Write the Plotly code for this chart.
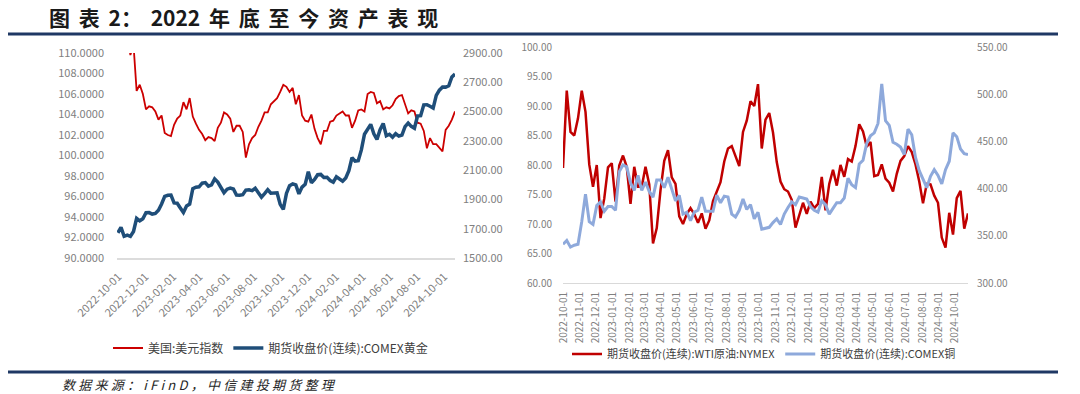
import pandas as pd
import plotly.graph_objects as go

W, H = 1080, 394

# ---------------- data (weekly, Fridays from 2022-09-30) ----------------
start_date = "2022-09-30"

dxy = [112.1,
       112.8, 113.3, 111.9, 109.8,
       110.8, 106.3, 106.9, 106.0,
       104.5, 104.8, 104.7, 104.3, 103.5,
       103.9, 102.2, 102.0, 101.9,
       103.0, 103.6, 103.9, 105.2,
       104.5, 105.6, 103.8, 103.1, 102.5,
       102.1, 101.5, 101.8, 101.7,
       101.4, 102.7, 103.2, 104.2,
       104.0, 103.6, 102.3, 102.9, 102.9,
       102.3, 99.8, 101.1, 101.7,
       102.0, 102.8, 103.4, 104.2,
       104.2, 105.0, 105.3, 105.6, 106.2,
       106.9, 106.7, 106.2, 106.6,
       105.0, 105.9, 103.9, 103.4,
       103.3, 104.0, 102.6, 101.7, 101.1,
       102.4, 102.4, 103.3, 103.4,
       103.9, 104.1, 104.3, 103.9,
       103.9, 102.7, 103.4, 104.4, 104.5,
       104.3, 106.0, 106.2, 106.1,
       105.1, 105.3, 104.5, 104.7, 104.6,
       104.9, 105.5, 105.8, 105.9,
       104.9, 104.1, 104.4, 104.3,
       103.2, 103.1, 102.4, 100.7, 101.7,
       101.1, 101.1, 100.7, 100.4,
       102.5, 102.9, 103.5, 104.3]

gold = [1672,
        1709, 1648, 1656, 1648,
        1681, 1771, 1754, 1768,
        1809, 1810, 1800, 1804, 1826,
        1869, 1921, 1928, 1929,
        1876, 1874, 1842, 1811,
        1855, 1868, 1973, 1983, 1986,
        2011, 2015, 1990, 1999,
        2040, 2019, 1981, 1946,
        1970, 1977, 1971, 1930, 1929,
        1932, 1964, 1966, 1960,
        1976, 1946, 1916, 1940,
        1966, 1942, 1946, 1945, 1866,
        1832, 1941, 1994, 2006,
        1999, 1938, 1984, 2003,
        2089, 2014, 2036, 2069, 2071,
        2050, 2051, 2029, 2018,
        2054, 2038, 2024, 2046,
        2096, 2186, 2161, 2164, 2238,
        2345, 2374, 2413, 2348,
        2310, 2376, 2419, 2335, 2345,
        2325, 2349, 2333, 2339,
        2397, 2421, 2399, 2386,
        2470, 2472, 2546, 2547, 2536,
        2524, 2611, 2646, 2668,
        2667, 2676, 2736, 2757]

wti = [79.5,
       92.6, 85.6, 85.0, 87.9,
       92.6, 89.0, 80.1, 76.3,
       80.0, 71.0, 74.3, 79.6, 80.3,
       73.8, 79.9, 81.6, 79.7,
       73.4, 79.7, 76.3, 76.3,
       79.7, 76.7, 66.7, 69.3, 75.7,
       80.7, 82.5, 77.9, 76.8,
       71.3, 70.0, 71.7, 72.7,
       71.7, 70.2, 71.8, 69.2, 70.6,
       73.9, 75.4, 77.1, 80.6,
       82.8, 83.2, 81.3, 79.8,
       85.6, 87.5, 90.8, 90.0, 93.7,
       82.8, 87.7, 88.8, 85.5,
       80.5, 77.2, 75.9, 75.5,
       74.1, 69.4, 71.4, 73.6, 71.7,
       73.8, 72.7, 73.4, 78.0,
       72.3, 76.8, 79.2, 76.5,
       80.0, 78.0, 81.0, 80.6, 83.2,
       86.9, 85.7, 83.1, 83.9,
       78.1, 78.3, 80.1, 77.7, 77.0,
       75.5, 78.5, 80.7, 81.5,
       83.2, 82.2, 80.1, 77.2,
       73.5, 76.8, 76.7, 74.8, 73.6,
       67.7, 66.0, 71.9, 68.2,
       74.4, 75.6, 69.2, 71.8]

copper = [341,
          345, 338, 340, 341,
          365, 394, 365, 362,
          382, 386, 376, 381, 381,
          377, 418, 425, 423,
          406, 398, 414, 398,
          407, 397, 391, 409, 409,
          401, 412, 399, 387,
          393, 373, 375, 366,
          375, 377, 391, 376, 376,
          376, 393, 385, 392,
          391, 373, 370, 377,
          389, 378, 383, 368, 375,
          357, 358, 359, 364,
          368, 362, 373, 380,
          386, 383, 391, 390, 389,
          381, 377, 375, 387,
          383, 373, 379, 385,
          385, 390, 411, 404, 401,
          426, 430, 448, 456,
          459, 469, 511, 472, 467,
          449, 447, 444, 436,
          463, 457, 433, 419,
          410, 401, 413, 420, 414,
          405, 420, 429, 459,
          455, 442, 437, 436]

left_ticks = ["2022-10-01", "2022-12-01", "2023-02-01", "2023-04-01", "2023-06-01",
              "2023-08-01", "2023-10-01", "2023-12-01", "2024-02-01", "2024-04-01",
              "2024-06-01", "2024-08-01", "2024-10-01"]

name_dxy = "美国:美元指数"
name_gold = "期货收盘价(连续):COMEX黄金"
name_wti = "期货收盘价(连续):WTI原油:NYMEX"
name_cu = "期货收盘价(连续):COMEX铜"

title_tokens = ["图", "表", "2：", "2022", "年", "底", "至", "今", "资", "产", "表", "现"]
source_text = "数据来源：iFinD，中信建投期货整理"


def weekly(vals):
    return pd.date_range(start_date, periods=len(vals), freq="7D")


GAP = "\u2005"
TITLE_GAP = "\u2005\u2006"

RED = "#C00000"
NAVY = "#1F4E79"
LBLUE = "#8EA9DB"
GREY = "#808080"
FONT = "Noto Sans CJK SC"

fig = go.Figure()
fig.add_trace(go.Scatter(x=weekly(dxy), y=dxy, name=name_dxy, mode="lines",
                         line=dict(color="#CC0000", width=1.8), xaxis="x", yaxis="y",
                         legend="legend"))
fig.add_trace(go.Scatter(x=weekly(gold), y=gold, name=name_gold, mode="lines",
                         line=dict(color=NAVY, width=3.5), xaxis="x", yaxis="y2",
                         legend="legend"))
fig.add_trace(go.Scatter(x=weekly(wti), y=wti, name=name_wti, mode="lines",
                         line=dict(color=RED, width=2.5), xaxis="x2", yaxis="y3",
                         legend="legend2"))
fig.add_trace(go.Scatter(x=weekly(copper), y=copper, name=name_cu, mode="lines",
                         line=dict(color=LBLUE, width=3), xaxis="x2", yaxis="y4",
                         legend="legend2"))


def px_x(p):
    return p / W


def px_y(p):
    return 1 - p / H


tick_font_l = dict(family=FONT, size=11, color=GREY)
tick_font_r = dict(family=FONT, size=10, color=GREY)
common = dict(showgrid=False, zeroline=False, ticks="", automargin=False)

fig.update_layout(
    width=W, height=H, autosize=False,
    margin=dict(l=0, r=0, t=0, b=0, pad=0, autoexpand=False),
    paper_bgcolor="white", plot_bgcolor="white",
    font=dict(family=FONT, color="#404040"),
    xaxis=dict(domain=[px_x(117), px_x(455)], anchor="y", type="date",
               range=["2022-09-28", "2024-10-25"],
               tickmode="array", tickvals=left_ticks, ticktext=left_ticks,
               tickangle=-45, tickfont=tick_font_l,
               showline=True, linecolor="#DCDCDC", linewidth=2,
               ticklabelstandoff=6, **common),
    yaxis=dict(domain=[px_y(258), px_y(53)], anchor="x", range=[90, 110], dtick=2,
               tick0=90, tickformat=".4f", tickfont=tick_font_l, showline=False,
               ticklabelstandoff=12, **common),
    yaxis2=dict(overlaying="y", side="right", anchor="x", range=[1500, 2900], dtick=200,
                tick0=1500, tickformat=".2f", tickfont=tick_font_l, showline=False,
                ticklabelstandoff=7, **common),
    xaxis2=dict(domain=[px_x(563), px_x(968)], anchor="y3", type="date",
                range=["2022-09-30", "2024-10-25"], dtick="M1", tick0="2022-10-01",
                tickformat="%Y-%m-%d", tickangle=-90, tickfont=tick_font_r,
                showline=True, linecolor="#D9D9D9", linewidth=1,
                ticklabelstandoff=4, **common),
    yaxis3=dict(domain=[px_y(283), px_y(47)], anchor="x2", range=[60, 100], dtick=5,
                tick0=60, tickformat=".2f", tickfont=tick_font_r, showline=False,
                ticklabelstandoff=10, **common),
    yaxis4=dict(overlaying="y3", side="right", anchor="x2", range=[300, 550], dtick=50,
                tick0=300, tickformat=".2f", tickfont=tick_font_r, showline=False,
                ticklabelstandoff=8, **common),
    legend=dict(orientation="h", x=px_x(108), y=px_y(348), xanchor="left", yanchor="middle",
                font=dict(family=FONT, size=12, color="#404040"), bgcolor="rgba(0,0,0,0)",
                traceorder="normal"),
    legend2=dict(orientation="h", x=px_x(567), y=px_y(354), xanchor="left", yanchor="middle",
                 font=dict(family=FONT, size=11, color="#404040"), bgcolor="rgba(0,0,0,0)",
                 traceorder="normal"),
    showlegend=True,
)

# title and source
fig.add_annotation(text="<b>" + TITLE_GAP.join(title_tokens) + "</b>", xref="paper", yref="paper",
                   x=px_x(47), y=px_y(17), xanchor="left", yanchor="middle", showarrow=False,
                   font=dict(family=FONT, size=21, color="#1A1A1A"))
fig.add_annotation(text="<i>" + GAP.join(list(source_text)) + "</i>", xref="paper",
                   yref="paper", x=px_x(60), y=px_y(384), xanchor="left", yanchor="middle",
                   showarrow=False, font=dict(family=FONT, size=13, color="#262626"))

# header / footer rules
for yy in (34, 372):
    fig.add_shape(type="line", xref="paper", yref="paper", x0=px_x(8), x1=px_x(1058),
                  y0=px_y(yy), y1=px_y(yy), line=dict(color="#1F3864", width=3))

fig.write_html("out.html", config={"displayModeBar": False},
               post_script="document.body.style.margin='0';document.body.style.overflow='hidden';")
